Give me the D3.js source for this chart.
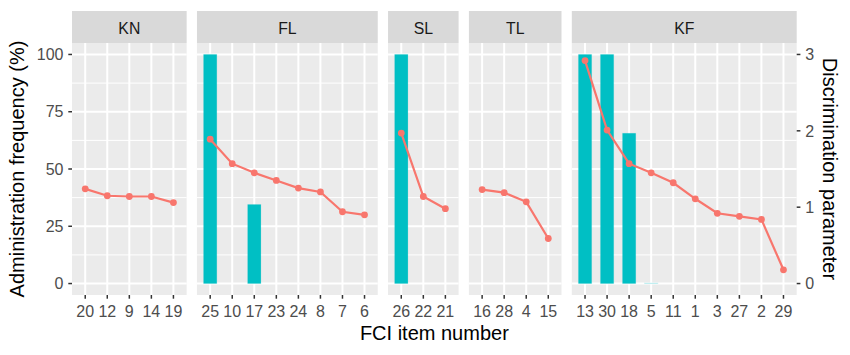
<!DOCTYPE html>
<html>
<head>
<meta charset="utf-8">
<script src="https://cdn.jsdelivr.net/npm/d3@7"></script>
<style>
  body { margin: 0; background: #fff; }
  svg { font-family: "Liberation Sans", Arial, sans-serif; }
</style>
</head>
<body>
<div id="chart"></div>
<script>
  // facets (FCI concept groups) and their items, in plotted order
  const groups = ["KN", "FL", "SL", "TL", "KF"];
  const items = [
    [20, 12, 9, 14, 19],
    [25, 10, 17, 23, 24, 8, 7, 6],
    [26, 22, 21],
    [16, 28, 4, 15],
    [13, 30, 18, 5, 11, 1, 3, 27, 2, 29]
  ];
  // administration frequency (%)
  const freq = [
    [0, 0, 0, 0, 0],
    [100, 0, 34.5, 0, 0, 0, 0, 0],
    [100, 0, 0],
    [0, 0, 0, 0],
    [100, 100, 65.6, 0.2, 0, 0, 0, 0, 0, 0]
  ];
  // discrimination parameter
  const disc = [
    [1.24, 1.15, 1.14, 1.14, 1.06],
    [1.89, 1.57, 1.45, 1.35, 1.25, 1.2, 0.94, 0.9],
    [1.97, 1.14, 0.98],
    [1.23, 1.19, 1.07, 0.59],
    [2.92, 2.01, 1.57, 1.45, 1.32, 1.11, 0.92, 0.88, 0.84, 0.18]
  ];
  const leftTicks = [0, 25, 50, 75, 100];
  const leftMinor = [12.5, 37.5, 62.5, 87.5];
  const rightTicks = [0, 1, 2, 3];

  const width = 850, height = 355;
  const plotL = 72, plotR = 796.7, gap = 10.3;
  const plotT = 43, plotB = 295, stripH = 32;
  const barColor = "#00BFC4", lineColor = "#F8766D";

  const svg = d3.select("#chart").append("svg")
    .attr("width", width)
    .attr("height", height);

  const y = d3.scaleLinear().domain([-5, 105]).range([plotB, plotT]);
  const yDisc = d => y(d * 100 / 3);

  // panel widths proportional to number of items (+ 0.6 expansion each side)
  const units = items.map(it => it.length - 1 + 1.2);
  const unit = (plotR - plotL - gap * (groups.length - 1)) / d3.sum(units);
  let cursor = plotL;
  const panels = groups.map((g, i) => {
    const x0 = cursor, x1 = cursor + units[i] * unit;
    cursor = x1 + gap;
    const x = d3.scalePoint().domain(items[i]).range([x0, x1]).padding(0.6);
    return { name: g, i, x0, x1, x };
  });

  panels.forEach(p => {
    const g = svg.append("g");
    const w = p.x1 - p.x0;

    g.append("rect")
      .attr("x", p.x0).attr("y", plotT)
      .attr("width", w).attr("height", plotB - plotT)
      .attr("fill", "#EBEBEB");

    g.selectAll(".minor").data(leftMinor).enter().append("line")
      .attr("x1", p.x0).attr("x2", p.x1)
      .attr("y1", d => y(d)).attr("y2", d => y(d))
      .attr("stroke", "#fff").attr("stroke-width", 1);

    g.selectAll(".major").data(leftTicks).enter().append("line")
      .attr("x1", p.x0).attr("x2", p.x1)
      .attr("y1", d => y(d)).attr("y2", d => y(d))
      .attr("stroke", "#fff").attr("stroke-width", 2);

    g.selectAll(".vgrid").data(items[p.i]).enter().append("line")
      .attr("x1", d => p.x(d)).attr("x2", d => p.x(d))
      .attr("y1", plotT).attr("y2", plotB)
      .attr("stroke", "#fff").attr("stroke-width", 2);

    // strip
    g.append("rect")
      .attr("x", p.x0).attr("y", plotT - stripH)
      .attr("width", w).attr("height", stripH)
      .attr("fill", "#D9D9D9");
    g.append("text")
      .attr("x", (p.x0 + p.x1) / 2).attr("y", plotT - 9.5)
      .attr("text-anchor", "middle")
      .attr("font-size", "15.8px")
      .attr("fill", "#1A1A1A")
      .text(p.name);

    // bars
    const bw = p.x.step() * 0.6;
    const bars = items[p.i].map((it, j) => ({ it, v: freq[p.i][j] }));
    g.selectAll(".bar").data(bars).enter().append("rect")
      .attr("x", d => p.x(d.it) - bw / 2)
      .attr("width", bw)
      .attr("y", d => y(d.v))
      .attr("height", d => y(0) - y(d.v))
      .attr("fill", barColor)
      .attr("fill-opacity", d => d.v < 1 ? 0.3 : 1)
      .attr("stroke", barColor)
      .attr("stroke-opacity", 0.12)
      .attr("stroke-width", 1);

    // line + points
    const pts = items[p.i].map((it, j) => ({ it, v: disc[p.i][j] }));
    g.append("path")
      .datum(pts)
      .attr("fill", "none")
      .attr("stroke", lineColor)
      .attr("stroke-width", 2.2)
      .attr("d", d3.line().x(d => p.x(d.it)).y(d => yDisc(d.v)));
    g.selectAll(".pt").data(pts).enter().append("circle")
      .attr("cx", d => p.x(d.it)).attr("cy", d => yDisc(d.v))
      .attr("r", 3.4)
      .attr("fill", lineColor);

    // x ticks
    const xt = g.selectAll(".xt").data(items[p.i]).enter();
    xt.append("line")
      .attr("x1", d => p.x(d)).attr("x2", d => p.x(d))
      .attr("y1", plotB).attr("y2", plotB + 3.7)
      .attr("stroke", "#333").attr("stroke-width", 1.5);
    xt.append("text")
      .attr("x", d => p.x(d)).attr("y", plotB + 22)
      .attr("text-anchor", "middle")
      .attr("font-size", "16px")
      .attr("fill", "#4D4D4D")
      .text(d => d);
  });

  // left axis
  const la = svg.append("g");
  la.selectAll("line").data(leftTicks).enter().append("line")
    .attr("x1", plotL - 3.7).attr("x2", plotL)
    .attr("y1", d => y(d)).attr("y2", d => y(d))
    .attr("stroke", "#333").attr("stroke-width", 1.5);
  la.selectAll("text").data(leftTicks).enter().append("text")
    .attr("x", plotL - 8.5).attr("y", d => y(d))
    .attr("dy", "0.36em")
    .attr("text-anchor", "end")
    .attr("font-size", "16px")
    .attr("fill", "#4D4D4D")
    .text(d => d);
  svg.append("text")
    .attr("transform", `translate(24,${(plotT + plotB) / 2}) rotate(-90)`)
    .attr("text-anchor", "middle")
    .attr("font-size", "20px")
    .attr("fill", "#000")
    .text("Administration frequency (%)");

  // right axis
  const ra = svg.append("g");
  ra.selectAll("line").data(rightTicks).enter().append("line")
    .attr("x1", plotR).attr("x2", plotR + 3.7)
    .attr("y1", d => yDisc(d)).attr("y2", d => yDisc(d))
    .attr("stroke", "#333").attr("stroke-width", 1.5);
  ra.selectAll("text").data(rightTicks).enter().append("text")
    .attr("x", plotR + 8.5).attr("y", d => yDisc(d))
    .attr("dy", "0.36em")
    .attr("font-size", "16px")
    .attr("fill", "#4D4D4D")
    .text(d => d);
  svg.append("text")
    .attr("transform", `translate(823,${(plotT + plotB) / 2}) rotate(90)`)
    .attr("text-anchor", "middle")
    .attr("font-size", "20px")
    .attr("fill", "#000")
    .text("Discrimination parameter");

  // x title
  svg.append("text")
    .attr("x", (plotL + plotR) / 2).attr("y", 340)
    .attr("text-anchor", "middle")
    .attr("font-size", "20px")
    .attr("fill", "#000")
    .text("FCI item number");
</script>
</body>
</html>
